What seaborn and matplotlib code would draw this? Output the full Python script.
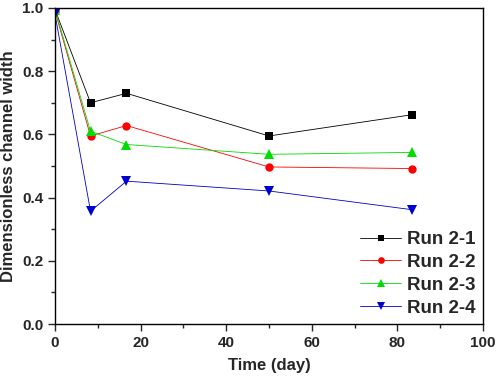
import matplotlib
matplotlib.use("Agg")
import matplotlib.pyplot as plt
import seaborn as sns
import pandas as pd
from matplotlib.ticker import MultipleLocator

time_day = [0, 8.3, 16.7, 50, 83.3]
run_2_1 = [0.995, 0.700, 0.730, 0.595, 0.662]
run_2_2 = [0.990, 0.595, 0.628, 0.497, 0.492]
run_2_3 = [0.995, 0.610, 0.568, 0.537, 0.543]
run_2_4 = [0.980, 0.357, 0.452, 0.421, 0.362]
labels = ["Run 2-1", "Run 2-2", "Run 2-3", "Run 2-4"]

series = [run_2_1, run_2_2, run_2_3, run_2_4]

sns.set_style("white")
plt.rcParams['font.family'] = ['Liberation Sans', 'DejaVu Sans']
plt.rcParams['font.weight'] = 'bold'

fig = plt.figure(figsize=(5.0, 3.79), dpi=100)
ax = fig.add_axes([0.11, 0.145, 0.856, 0.834])

colors = ["#000000", "#ff0000", "#00dd00", "#0000cc"]
marker_list = ["s", "o", "^", "v"]
msizes = [5.5, 6, 7, 7]
for vals, lab, col, mk, ms in zip(series, labels, colors, marker_list, msizes):
    d = pd.DataFrame({"time": time_day, "width": vals})
    sns.lineplot(data=d, x="time", y="width", color=col, marker=mk,
                 markersize=ms, markeredgewidth=0, linewidth=0.6,
                 label=lab, ax=ax)

ax.set_xlim(0, 100)
ax.set_ylim(0, 1.0)
ax.xaxis.set_minor_locator(MultipleLocator(10))
ax.yaxis.set_minor_locator(MultipleLocator(0.1))
ax.set_xticks([0, 20, 40, 60, 80, 100])
ax.set_xticklabels(["0", "20", "40", "60", "80", "100"])
ax.set_yticks([0, 0.2, 0.4, 0.6, 0.8, 1.0])
ax.set_yticklabels(["0.0", "0.2", "0.4", "0.6", "0.8", "1.0"])
ax.tick_params(which="major", direction="out", length=5, width=1, labelsize=11,
               bottom=True, left=True, top=False, right=False)
ax.tick_params(which="minor", direction="out", length=3, width=1,
               bottom=True, left=True, top=False, right=False)
for lbl in ax.get_xticklabels() + ax.get_yticklabels():
    lbl.set_fontweight("bold")
for s in ax.spines.values():
    s.set_visible(True)
    s.set_color("black")
    s.set_linewidth(1.0)

ax.set_xlabel("Time (day)", fontsize=12, fontweight="bold", labelpad=6)
ax.set_ylabel("Dimensionless channel width", fontsize=12, fontweight="bold", labelpad=4)

leg = ax.legend(loc="lower right", frameon=False, fontsize=13.5,
                handlelength=2.2, handletextpad=0.3, labelspacing=0.3,
                borderaxespad=0.0, bbox_to_anchor=(1.0, 0.0), markerscale=0.8)
for t in leg.get_texts():
    t.set_fontweight("bold")

fig.savefig("out.png", dpi=100)
